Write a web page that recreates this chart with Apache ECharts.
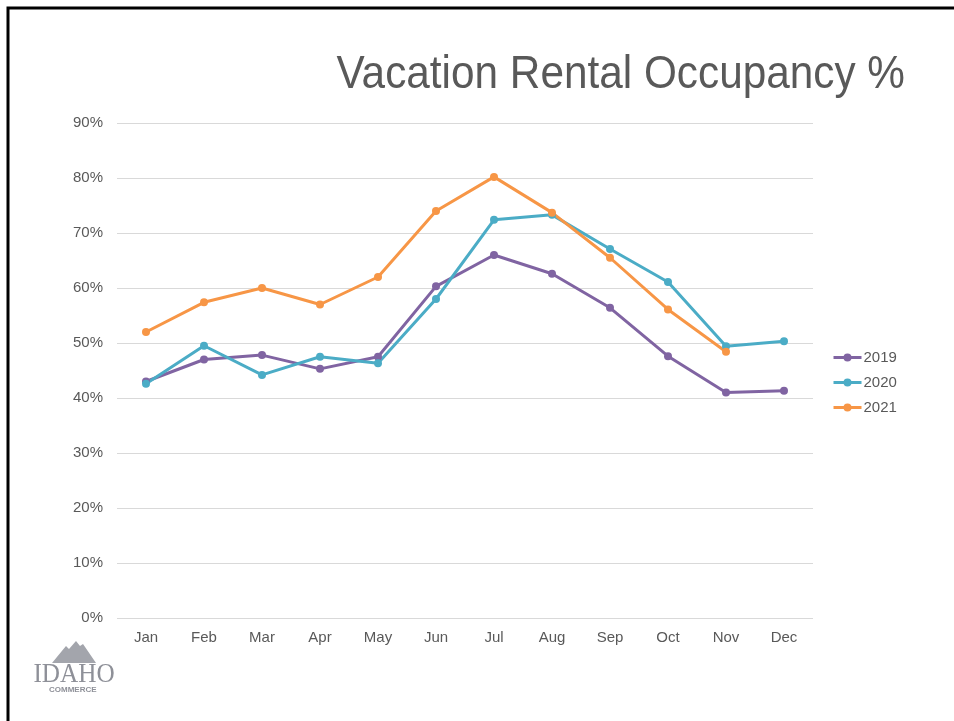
<!DOCTYPE html>
<html>
<head>
<meta charset="utf-8">
<script src="https://cdn.jsdelivr.net/npm/echarts@6/dist/echarts.min.js"></script>
<style>
  html, body { margin: 0; padding: 0; background: #fff; }
  #chart { width: 954px; height: 721px; }
</style>
</head>
<body>
<div id="chart"></div>
<script>
var months = ['Jan', 'Feb', 'Mar', 'Apr', 'May', 'Jun', 'Jul', 'Aug', 'Sep', 'Oct', 'Nov', 'Dec']
var occ2019 = [43.0, 47.0, 47.8, 45.3, 47.5, 60.3, 66.0, 62.6, 56.4, 47.6, 41.0, 41.3]
var occ2020 = [42.6, 49.5, 44.2, 47.5, 46.3, 58.0, 72.4, 73.3, 67.1, 61.1, 49.4, 50.3]
var occ2021 = [52.0, 57.4, 60.0, 57.0, 62.0, 74.0, 80.2, 73.7, 65.5, 56.1, 48.4, null]

var chart = echarts.init(document.getElementById('chart'))

function lineSeries(name, data, color) {
  return {
    name: name,
    type: 'line',
    data: data,
    symbol: 'circle',
    symbolSize: 8,
    lineStyle: { width: 3, color: color },
    itemStyle: { color: color },
    emphasis: { disabled: true }
  }
}

chart.setOption({
  animation: false,
  backgroundColor: '#fff',
  grid: {
    left: 117,
    right: 141,
    top: 123,
    bottom: 103
  },
  legend: {
    orient: 'vertical',
    left: 827,
    top: 345,
    itemGap: 10,
    itemWidth: 28,
    itemHeight: 10,
    lineStyle: { width: 3 },
    textStyle: { fontSize: 15, color: '#595959', fontFamily: 'Liberation Sans, Arial, sans-serif', padding: [0, 0, 0, -3] },
    data: ['2019', '2020', '2021']
  },
  xAxis: {
    type: 'category',
    data: months,
    boundaryGap: true,
    axisLine: { show: false },
    axisTick: { show: false },
    axisLabel: { color: '#595959', fontSize: 15, margin: 12, fontFamily: 'Liberation Sans, Arial, sans-serif' }
  },
  yAxis: {
    type: 'value',
    min: 0,
    max: 90,
    interval: 10,
    axisLine: { show: false },
    axisTick: { show: false },
    axisLabel: {
      color: '#595959',
      fontSize: 15,
      margin: 14,
      fontFamily: 'Liberation Sans, Arial, sans-serif',
      formatter: '{value}%'
    },
    splitLine: { lineStyle: { color: '#d9d9d9', width: 1 } }
  },
  series: [
    lineSeries('2019', occ2019, '#8064a2'),
    lineSeries('2020', occ2020, '#4bacc6'),
    lineSeries('2021', occ2021, '#f79646')
  ],
  graphic: [
    // slide frame
    {
      type: 'rect',
      shape: { x: 8, y: 8, width: 980, height: 760 },
      style: { fill: null, stroke: '#000', lineWidth: 3 },
      silent: true
    },
    // title, slightly condensed like the slide
    {
      type: 'text',
      x: 905,
      y: 98,
      scaleX: 0.92,
      style: {
        text: 'Vacation Rental Occupancy %',
        fontFamily: 'Liberation Sans, Arial, sans-serif',
        fontSize: 46,
        fill: '#595959',
        align: 'right',
        verticalAlign: 'bottom'
      },
      silent: true
    },
    // logo
    {
      type: 'polygon',
      shape: { points: [[52, 663], [66, 646], [69, 649], [76, 641], [80, 646], [83, 644], [96, 663]] },
      style: { fill: '#a3a5ac' },
      silent: true
    },
    {
      type: 'text',
      x: 74,
      y: 661,
      scaleX: 0.9,
      style: { text: 'IDAHO', fontFamily: 'Liberation Serif, serif', fontSize: 28, fill: '#8e9098', align: 'center' },
      silent: true
    },
    {
      type: 'text',
      left: 49,
      top: 686,
      style: { text: 'COMMERCE', fontFamily: 'Liberation Sans, Arial, sans-serif', fontSize: 8, fontWeight: 'bold', fill: '#8e9098' },
      silent: true
    }
  ]
})
</script>
</body>
</html>
